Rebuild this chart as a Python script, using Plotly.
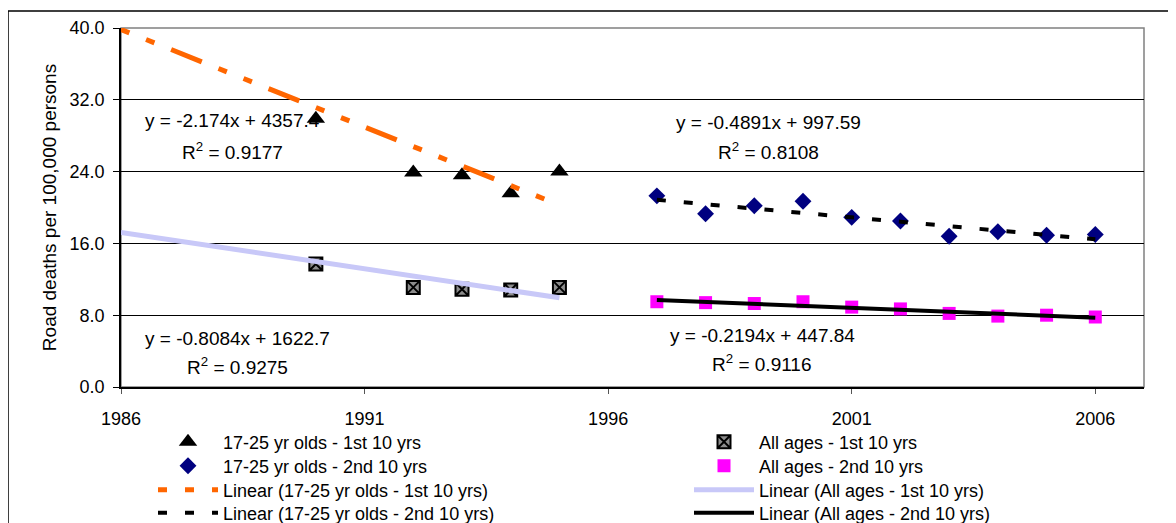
import plotly.graph_objects as go

# ---------------- data ----------------
years_first = [1990, 1992, 1993, 1994, 1995]
young_first = [29.9, 23.9, 23.6, 21.6, 24.0]
all_first = [13.7, 11.1, 10.9, 10.8, 11.1]

years_second = [1997, 1998, 1999, 2000, 2001, 2002, 2003, 2004, 2005, 2006]
young_second = [21.3, 19.3, 20.2, 20.7, 18.9, 18.5, 16.8, 17.3, 16.9, 17.0]
all_second = [9.5, 9.4, 9.3, 9.5, 8.9, 8.7, 8.2, 7.9, 8.0, 7.8]

# linear trendlines (Excel): y = slope*x + intercept
trend_names = ["Linear (17-25 yr olds - 1st 10 yrs)", "Linear (All ages - 1st 10 yrs)",
               "Linear (17-25 yr olds - 2nd 10 yrs)", "Linear (All ages - 2nd 10 yrs)"]
trend_slopes = [-2.174, -0.8084, -0.4891, -0.2194]
trend_intercepts = [4357.4, 1622.7, 997.59, 447.84]
trend_r2 = [0.9177, 0.9275, 0.8108, 0.9116]
trend_start = [1986, 1986, 1997, 1997]
trend_end = [1995, 1995, 2006, 2006]
trend_slope_text = ["-2.174", "-0.8084", "-0.4891", "-0.2194"]
trend_icpt_text = ["4357.4", "1622.7", "997.59", "447.84"]

x_ticks = [1986, 1991, 1996, 2001, 2006]
y_ticks = [0, 8, 16, 24, 32, 40]

FONT = "Liberation Sans, Arial, sans-serif"

# ---------------- styles ----------------
marker_styles = [
    dict(name="17-25 yr olds - 1st 10 yrs", x=years_first, y=young_first,
         marker=dict(symbol="triangle-up", size=16, color="black")),
    dict(name="All ages - 1st 10 yrs", x=years_first, y=all_first,
         marker=dict(symbol="square-x", size=13, color="#8c8c8c",
                     line=dict(color="black", width=2))),
    dict(name="17-25 yr olds - 2nd 10 yrs", x=years_second, y=young_second,
         marker=dict(symbol="diamond", size=13, color="#000080")),
    dict(name="All ages - 2nd 10 yrs", x=years_second, y=all_second,
         marker=dict(symbol="square", size=13, color="#FF00FF")),
]
trend_lines = [
    dict(color="#FF6600", width=5, dash="9px,18px,9px,18px,33px,18px"),
    dict(color="#C8C8F8", width=5, dash="solid"),
    dict(color="black", width=4, dash="9px,18px"),
    dict(color="black", width=4, dash="solid"),
]
legend_of_marker = ["legend", "legend2", "legend3", "legend4"]
legend_of_trend = ["legend5", "legend6", "legend7", "legend8"]
legend_pos = {
    "legend": (0, 0), "legend2": (1, 0), "legend3": (0, 1), "legend4": (1, 1),
    "legend5": (0, 2), "legend6": (1, 2), "legend7": (0, 3), "legend8": (1, 3),
}

fig = go.Figure()

for ms, lg in zip(marker_styles, legend_of_marker):
    fig.add_trace(go.Scatter(x=ms["x"], y=ms["y"], mode="markers", name=ms["name"],
                             marker=ms["marker"], legend=lg))

for i in range(4):
    xs = [trend_start[i], trend_end[i]]
    ys = [trend_slopes[i] * v + trend_intercepts[i] for v in xs]
    fig.add_trace(go.Scatter(x=xs, y=ys, mode="lines", name=trend_names[i],
                             line=trend_lines[i], legend=legend_of_trend[i]))

# ---------------- layout ----------------
# the page body adds an 8px offset; the figure is sized so page positions match
OFF = 8
W, H = 1176 - OFF, 523 - OFF
ml, mt = 121 - OFF, 28 - OFF
mr = W - (1144 - OFF)
mb = H - (387 - OFF)
pw, ph = W - ml - mr, H - mt - mb

def px_to_paper(px, py):
    # px, py are page (screenshot) coordinates
    fx, fy = px - OFF, py - OFF
    return (fx - ml) / pw, (H - mb - fy) / ph

col_left = [153, 689]
row_y = [442, 466, 490, 513]
legends = {}
for lg, (c, r) in legend_pos.items():
    lx, ly = px_to_paper(col_left[c], row_y[r])
    legends[lg] = dict(x=lx, y=ly, xanchor="left", yanchor="middle",
                       bgcolor="rgba(0,0,0,0)", borderwidth=0, itemwidth=60,
                       font=dict(family=FONT, size=18, color="black"))

ann_x = [1988.28, 1988.39, 1999.29, 1999.16]
ann_y1 = [29.66, 5.44, 29.47, 5.78]
ann_y2 = [26.31, 2.35, 26.31, 2.62]
annotations = []
for i in range(4):
    annotations.append(dict(x=ann_x[i], y=ann_y1[i], xref="x", yref="y", showarrow=False,
                            text=f"y = {trend_slope_text[i]}x + {trend_icpt_text[i]}",
                            font=dict(family=FONT, size=19, color="black")))
    annotations.append(dict(x=ann_x[i], y=ann_y2[i], xref="x", yref="y", showarrow=False,
                            text=f"R<sup>2</sup> = {trend_r2[i]:.4f}",
                            font=dict(family=FONT, size=19, color="black")))

bx0, by1 = px_to_paper(8, 11)
bx1, by0 = px_to_paper(1200, 540)

fig.update_layout(
    width=W, height=H,
    margin=dict(l=ml, r=mr, t=mt, b=mb, autoexpand=False),
    paper_bgcolor="white", plot_bgcolor="white",
    font=dict(family=FONT, size=18, color="black"),
    showlegend=True,
    annotations=annotations,
    shapes=[
        dict(type="rect", xref="paper", yref="paper", x0=0, x1=1, y0=0, y1=1,
             line=dict(color="#808080", width=1.5), layer="below"),
        dict(type="rect", xref="paper", yref="paper", x0=bx0, x1=bx1, y0=by0, y1=by1,
             line=dict(color="black", width=1.5), layer="above"),
    ],
    xaxis=dict(range=[1986, 2007], tickvals=x_ticks, ticks="outside", ticklen=5,
               tickcolor="#555555", showline=True, linecolor="black", linewidth=1.5,
               showgrid=False, zeroline=False, ticklabelstandoff=10,
               tickfont=dict(family=FONT, size=18, color="black")),
    yaxis=dict(range=[0, 40], tickvals=y_ticks, tickformat=".1f", ticks="outside", ticklen=6,
               tickcolor="black", showline=True, linecolor="black", linewidth=1.5,
               showgrid=True, gridcolor="black", gridwidth=1, zeroline=False,
               ticklabelstandoff=5,
               tickfont=dict(family=FONT, size=18, color="black"),
               title=dict(text="Road deaths per 100,000 persons", standoff=8,
                          font=dict(family=FONT, size=19, color="black"))),
    **legends,
)

fig.write_html("out.html")
